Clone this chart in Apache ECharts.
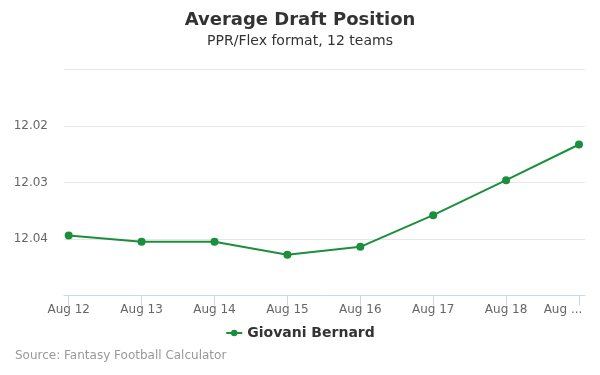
<!DOCTYPE html>
<html><head><meta charset="utf-8">
<script src="https://cdn.jsdelivr.net/npm/echarts@6/dist/echarts.min.js"></script>
<style>html,body{margin:0;padding:0;background:#fff}#c{width:600px;height:375px}</style>
</head><body><div id="c"></div>
<script>
var categories = ['Aug 12','Aug 13','Aug 14','Aug 15','Aug 16','Aug 17','Aug 18','Aug 19'];
var adpValues = [12.0394, 12.0405, 12.0405, 12.0428, 12.0414, 12.0358, 12.0296, 12.0233];
var seriesName = 'Giovani Bernard';
var yTicks = [12.01, 12.02, 12.03, 12.04, 12.05];
var yLabeled = ['12.02', '12.03', '12.04'];

(function () {
var FONT = 'DejaVu Sans, sans-serif';
var GREEN = '#1b8f3c';
var chart = echarts.init(document.getElementById('c'), null, {renderer: 'canvas'});
var gTop = 69.3, gBottom = 375 - 295.5;
chart.setOption({
  animation: false,
  textStyle: {fontFamily: FONT},
  title: [
    {text: 'Average Draft Position', left: 'center', top: 6,
     textStyle: {fontSize: 18, fontWeight: 'bold', color: '#333', fontFamily: FONT}},
    {text: 'PPR/Flex format, 12 teams', left: 'center', top: 29,
     textStyle: {fontSize: 14, fontWeight: 'normal', color: '#333', fontFamily: FONT}},
    {text: 'Source: Fantasy Football Calculator', left: 10, top: 345,
     textStyle: {fontSize: 12, fontWeight: 'normal', color: '#999', fontFamily: FONT}}
  ],
  legend: {
    data: [seriesName], left: 'center', top: 321, itemWidth: 16, itemHeight: 8,
    textStyle: {fontSize: 14, fontWeight: 'bold', color: '#333', fontFamily: FONT}
  },
  grid: [
    {left: 64, right: 15, top: gTop, bottom: gBottom},
    {left: 68.7, right: 21, top: gTop, bottom: gBottom}
  ],
  xAxis: [
    {gridIndex: 0, type: 'value', min: 0, max: 1, axisLine: {show: true, lineStyle: {color: '#ccd6eb'}},
     axisTick: {show: false}, axisLabel: {show: false}, splitLine: {show: false}},
    {gridIndex: 1, type: 'category', data: categories, boundaryGap: false,
     axisLine: {show: false},
     axisTick: {show: true, length: 10, lineStyle: {color: '#ccd6eb'}},
     axisLabel: {color: '#666', fontSize: 12, fontFamily: FONT, margin: 8, interval: 0,
       formatter: function (v, i) { return i === categories.length - 1 ? '{last|Aug ...}' : v; },
       rich: {last: {color: '#666', fontSize: 12, fontFamily: FONT, padding: [0, 32, 0, 0]}}},
     splitLine: {show: false}}
  ],
  yAxis: [
    {gridIndex: 0, type: 'value', inverse: true, min: yTicks[0], max: yTicks[yTicks.length - 1], interval: 0.01,
     axisLine: {show: false}, axisTick: {show: false},
     axisLabel: {color: '#666', fontSize: 12, fontFamily: FONT, margin: 16,
       formatter: function (v) { var s = v.toFixed(2); return yLabeled.indexOf(s) >= 0 ? s : ''; }},
     splitLine: {show: true, lineStyle: {color: '#e6e6e6', width: 1}}},
    {gridIndex: 1, type: 'value', inverse: true, min: yTicks[0], max: yTicks[yTicks.length - 1], interval: 0.01,
     axisLine: {show: false}, axisTick: {show: false}, axisLabel: {show: false}, splitLine: {show: false}}
  ],
  series: [{
    name: seriesName, type: 'line', xAxisIndex: 1, yAxisIndex: 1, data: adpValues,
    symbol: 'circle', symbolSize: 8, showAllSymbol: true,
    lineStyle: {color: GREEN, width: 2}, itemStyle: {color: GREEN}
  }]
});
})();
</script></body></html>
